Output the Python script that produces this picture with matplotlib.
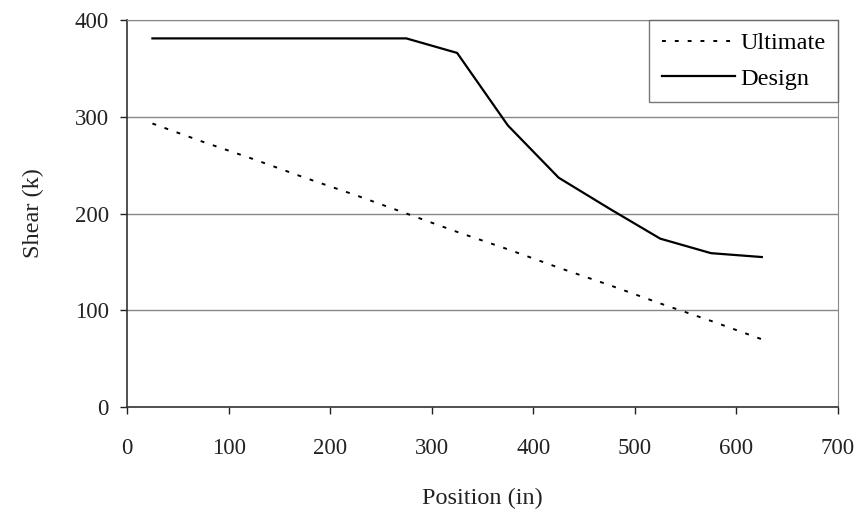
import matplotlib
matplotlib.use("Agg")
import matplotlib.pyplot as plt

# Positions along the member (in) and shear values (k)
position = [25, 75, 125, 175, 225, 275, 325, 375, 425, 475, 525, 575, 625]
ultimate = [293, 274, 256, 237, 219, 200, 181, 163, 144, 126, 107, 89, 70]
design = [381, 381, 381, 381, 381, 381, 366, 291, 237, 205, 174, 159, 155]

x_ticks = [0, 100, 200, 300, 400, 500, 600, 700]
y_ticks = [0, 100, 200, 300, 400]

plt.rcParams["font.family"] = ["Liberation Serif", "DejaVu Serif"]

fig = plt.figure(figsize=(8.6, 5.24), dpi=100)
ax = fig.add_axes([0.1477, 0.2233, 0.8267, 0.7385])

ax.plot(position, ultimate, color="black", linestyle=(0, (2, 4.6)), linewidth=1.4,
        label="Ultimate")
ax.plot(position, design, color="black", linestyle="-", linewidth=1.6, label="Design")

ax.set_xlim(0, 700)
ax.set_ylim(0, 400)
ax.set_xticks(x_ticks)
ax.set_yticks(y_ticks)
ax.tick_params(axis="both", direction="out", length=5, width=1, labelsize=16.5,
               colors="#222222")
ax.tick_params(axis="x", pad=17)
ax.tick_params(axis="y", pad=8)

ax.yaxis.grid(True, color="#888888", linewidth=1)
ax.set_axisbelow(True)

ax.spines["left"].set_color("#333333")
ax.spines["bottom"].set_color("#333333")
ax.spines["left"].set_linewidth(1.2)
ax.spines["bottom"].set_linewidth(1.2)
ax.spines["right"].set_color("#888888")
ax.spines["top"].set_color("#888888")

ax.set_xlabel("Position (in)", fontsize=17.5, labelpad=21, color="#222222")
ax.set_ylabel("Shear (k)", fontsize=17.5, labelpad=22, color="#222222")

leg = ax.legend(loc="upper right", bbox_to_anchor=(1.0, 1.0), fontsize=17.5,
                frameon=True, fancybox=False, borderaxespad=0, handlelength=3.0,
                handletextpad=0.25, labelspacing=0.55, borderpad=0.5)
leg.get_frame().set_edgecolor("#555555")
leg.get_frame().set_linewidth(1.0)

fig.savefig("out.png", dpi=100, facecolor="white")
